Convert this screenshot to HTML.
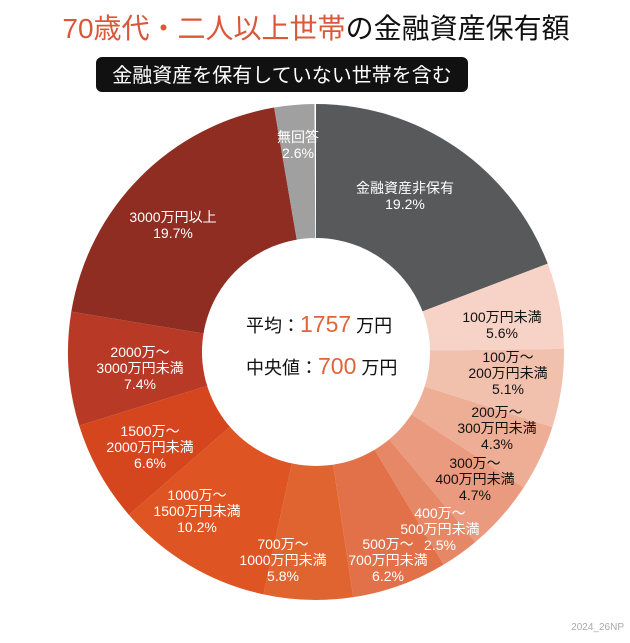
<!DOCTYPE html>
<html><head><meta charset="utf-8">
<style>
body{margin:0;background:#fff;width:630px;height:638px;overflow:hidden;font-family:"Liberation Sans","Noto Sans CJK JP",sans-serif;}
svg text{font-family:"Liberation Sans","Noto Sans CJK JP",sans-serif;}
</style></head><body>
<svg id="s" width="630" height="638" xmlns="http://www.w3.org/2000/svg">
<text x="316" y="38" text-anchor="middle" font-size="28"><tspan fill="#d9583a">70歳代・二人以上世帯</tspan><tspan fill="#111">の金融資産保有額</tspan></text>
<rect x="96" y="57" width="372" height="35" rx="6" fill="#111"/>
<text x="282" y="82" text-anchor="middle" font-size="20" fill="#fff">金融資産を保有していない世帯を含む</text>
<g id="pie"></g>
<circle cx="316" cy="352" r="114" fill="#fff"/>
<text x="246" y="332" font-size="18" fill="#111">平均：<tspan fill="#e0643a" font-size="23">1757</tspan> 万円</text>
<text x="246" y="374" font-size="18" fill="#111">中央値：<tspan fill="#e0643a" font-size="23">700</tspan> 万円</text>
<g font-size="14" text-anchor="middle" id="lbl"></g>
<text x="624" y="630" text-anchor="end" font-size="10" fill="#aaa">2024_26NP</text>
</svg>
<script>
var d=[[19.2,"#58595b"],[5.6,"#f6d3c6"],[5.1,"#f2c1ae"],[4.3,"#eeae96"],[4.7,"#ea9a7e"],[2.5,"#e68866"],[6.2,"#e2714a"],[5.8,"#e0642f"],[10.2,"#de5423"],[6.6,"#d6461e"],[7.4,"#b83a26"],[19.7,"#8f2d22"],[2.6,"#a0a0a0"]];
var cx=316,cy=352,R=248,a=0,h="";
d.forEach(function(v){var b=a+v[0]/100*2*Math.PI;
var x1=cx+R*Math.sin(a),y1=cy-R*Math.cos(a),x2=cx+R*Math.sin(b),y2=cy-R*Math.cos(b);
h+='<path d="M'+cx+' '+cy+'L'+x1+' '+y1+'A'+R+' '+R+' 0 '+((b-a)>Math.PI?1:0)+' 1 '+x2+' '+y2+'Z" fill="'+v[1]+'"/>';a=b;});
document.getElementById("pie").innerHTML=h;
var L=[[405,193,"#fff",["金融資産非保有","19.2%"]],[502,322,"#111",["100万円未満","5.6%"]],[508,362,"#111",["100万～","200万円未満","5.1%"]],[497,417,"#111",["200万～","300万円未満","4.3%"]],[475,468,"#111",["300万～","400万円未満","4.7%"]],[440,518,"#fff",["400万～","500万円未満","2.5%"]],[388,549,"#fff",["500万～","700万円未満","6.2%"]],[283,549,"#fff",["700万～","1000万円未満","5.8%"]],[197,500,"#fff",["1000万～","1500万円未満","10.2%"]],[150,436,"#fff",["1500万～","2000万円未満","6.6%"]],[140,357,"#fff",["2000万～","3000万円未満","7.4%"]],[173,222,"#fff",["3000万円以上","19.7%"]],[298,142,"#fff",["無回答","2.6%"]]];
var t="";L.forEach(function(l){l[3].forEach(function(s,i){t+='<text x="'+l[0]+'" y="'+(l[1]+i*16)+'" fill="'+l[2]+'">'+s+'</text>';});});
document.getElementById("lbl").innerHTML=t;
</script>
</body></html>
